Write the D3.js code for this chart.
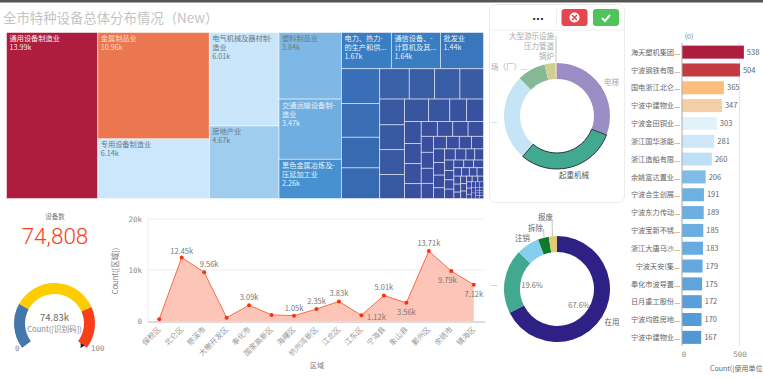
<!DOCTYPE html>
<html><head><meta charset="utf-8">
<script src="https://cdn.jsdelivr.net/npm/d3@7"></script>
<style>html,body{margin:0;padding:0;background:#fff;overflow:hidden}svg{display:block;font-family:"Noto Sans CJK SC","Noto Sans",sans-serif}</style>
</head><body><svg id="c" width="763" height="380"></svg>
<script>
const titleText = "全市特种设备总体分布情况（New）";
// treemap
const treeNames = ["通用设备制造业","金属制品业","专用设备制造业","电气机械及器材制-\n造业","房地产业","塑料制品业","交通运输设备制-\n造业","黑色金属冶炼及-\n压延加工业","电力、热力-\n的生产和供...","通信设备、-\n计算机及其...","批发业"];
const treeValues = [13.99,10.96,6.14,6.01,4.67,3.84,3.47,2.26,1.67,1.64,1.44];
const treeTail = [1.23,1.19,1.08,1.08,.83,.71,.71,.66,.59,.57,.57,.55,.5,.44,.35,.35,.34,.31,.31,.23,.22,.21,.21,.21,.18,.18,.17,.17,.15,.15,.14,.14,.14,.13,.13,.11,.11,.11,.09,.09,.09,.08,.08,.08,.07,.07,.07,.06,.06,.06,.05,.05,.05,.04,.04,.04,.04,.03,.03,.03,.03,.03,.02,.02,.02,.02,.02,.02,.01,.01,.01,.01,.01,.01,.01,.01];
const treeColorStops = [0,0.5,1.7,2.26,3.47,4.67,6.0,6.5,10.96,13.99];
const treeColors = ["#3a4a9e","#38569f","#397fc4","#4791d0","#70aee2","#9ecdf0","#c9e6fb","#d2eafb","#ea7750","#ae1c3e"];
// KPI + gauge
const kpiLabel = "设备数", kpiValue = "74,808", gaugeValue = "74.83k", gaugeTitle = "Count([识别码])";
const gaugeBands = [26,50,24], gaugeColors = ["#4477aa","#ffcc00","#f93f17"], gaugeTicks = ["0","100"];
// line
const areas = ["保税区","北仑区","慈溪市","大榭开发区","奉化市","国家高新区","海曙区","杭州湾新区","江北区","江东区","宁海县","象山县","鄞州区","余姚市","镇海区"];
const counts = [350,12450,9560,650,3090,1200,1050,2350,3830,1120,5010,3560,13710,9790,7120];
const countLabels = ["","12.45k","9.56k","","3.09k","","1.05k","2.35k","3.83k","1.12k","5.01k","3.56k","13.71k","9.79k","7.12k"];
const yTicks = [0,10000,20000], yTickLabels = ["0","10k","20k"];
// donut 1
const typeNames = ["电梯","起重机械","...","场（厂）...","锅炉","压力管道","大型游乐设施"];
const typeValues = [30.8,30.3,26.4,8.6,3.3,.3,.2];
const typeColors = ["#9b8ec4","#40a990","#c5e5f7","#86b897","#d0ce93","#e8c9a8","#d8b0b0"];
// donut 2
const statusNames = ["在用","...","注销","拆除","报废"];
const statusValues = [67.6,19.6,7,3.3,2.5];
const statusColors = ["#2e2085","#40a990","#86cdf0","#0e7a30","#e0cb76"];
// bars
const firms = ["海天塑机集团...","宁波钢铁有限...","国电浙江北仑...","宁波中建物业...","宁波金田铜业...","浙江国华浙能...","浙江造船有限...","余姚富达置业...","宁波合生创展...","宁波东力传动...","宁波宝新不锈...","浙江大唐乌沙...","宁波天安(集...","奉化市波导置...","日月重工股份...","宁波均胜房地...","宁波中建物业..."];
const firmCounts = [538,504,365,347,303,281,260,206,191,189,185,183,179,175,172,170,167];
const firmColors = ["#ae1c3e","#c53a41","#fdbe7c","#f2cfa5","#e2f2fb","#cfe7f9","#bde0f7","#7fbce8","#6fb0e2","#6dafe2","#6aade1","#68abe0","#64a8de","#5fa4dc","#5a9fd9","#559bd7","#5097d4"];

const svg = d3.select("#c");
const T = (x,y,s,o={}) => svg.append("text").attr("x",x).attr("y",y).text(s)
  .attr("font-size",o.size||8).attr("fill",o.fill||"#888").attr("text-anchor",o.anchor||"start")
  .attr("font-family",o.font||null).attr("transform",o.rot?`rotate(${o.rot},${x},${y})`:null);
const Leader = pts => svg.append("path").attr("d",d3.line()(pts)).attr("fill","none").attr("stroke","#aaa").attr("stroke-width",.7);

svg.append("rect").attr("width",763).attr("height",2.5).attr("fill","#555");
T(3,22.5,titleText,{size:13.4,fill:"#c4c4c4"});

// treemap
const leaves = treeValues.map((v,i)=>({v,name:treeNames[i]})).concat(treeTail.map(v=>({v})));
const root = d3.hierarchy({children:leaves}).sum(d=>d.v||0).sort((a,b)=>b.value-a.value);
d3.treemap().tile(d3.treemapSquarify.ratio(1)).size([477,166]).round(false)(root);
const tc = d3.scaleLinear().domain(treeColorStops).range(treeColors).clamp(true);
const tg = svg.append("g").attr("transform","translate(6.5,32.5)");
const cell = tg.selectAll("g").data(root.leaves()).join("g").attr("transform",d=>`translate(${d.x0},${d.y0})`);
cell.append("rect").attr("width",d=>d.x1-d.x0).attr("height",d=>d.y1-d.y0).attr("fill",d=>tc(d.data.v))
  .attr("stroke","#fff").attr("stroke-opacity",.55).attr("stroke-width",d=>d.data.v<.03?.4:.9);
cell.filter(d=>d.data.name).each(function(d){
  const g=d3.select(this), lines=d.data.name.split("\n");
  const dark=d.data.v<3.6||d.data.v>10; const light=d.data.v>10;
  const col=d.data.v>13?"#fbe6ea":light?"#fbdccf":dark?"#e6f1fa":"#667a88";
  lines.concat([(d.data.v).toFixed(2)+"k"]).forEach((s,i)=>{
    g.append("text").attr("x",3).attr("y",8.5+i*9).attr("font-size",7.2).attr("fill",col).text(s);
  });
});

// KPI
T(55,219,kpiLabel,{size:6.5,anchor:"middle",fill:"#777"});
T(55,244,kpiValue,{size:22.5,anchor:"middle",fill:"#f93f17",font:"Roboto"}).attr("font-weight",300);

// gauge
const gx=54.5, gy=323.5, gStart=-127*Math.PI/180, gEnd=127*Math.PI/180;
const gPie=d3.pie().sort(null).startAngle(gStart).endAngle(gEnd)(gaugeBands);
const gA=d3.arc().innerRadius(29.5).outerRadius(40.5);
svg.append("g").attr("transform",`translate(${gx},${gy})`).selectAll("path").data(gPie).join("path")
  .attr("d",gA).attr("fill",(d,i)=>gaugeColors[i]);
T(gx,321,gaugeValue,{size:9.5,anchor:"middle",fill:"#666"});
T(gx,331.5,gaugeTitle,{size:7.6,anchor:"middle",fill:"#888"});
T(15,351,gaugeTicks[0],{size:7.5,fill:"#888",font:"DejaVu Sans Mono"});
T(91,351,gaugeTicks[1],{size:7.5,fill:"#888",font:"DejaVu Sans Mono"});
svg.append("path").attr("d",d3.symbol(d3.symbolTriangle,10)()).attr("transform","translate(82,345.5) rotate(90)").attr("fill","#222");

// line
const x=d3.scaleBand().domain(areas).range([148,485]);
const y=d3.scaleLinear().domain([0,20000]).range([321,219]);
const px=i=>x(areas[i])+x.bandwidth()/2;
svg.append("g").selectAll("line").data(yTicks.slice(1)).join("line").attr("x1",148).attr("x2",485)
  .attr("y1",d=>y(d)).attr("y2",d=>y(d)).attr("stroke","#eee").attr("stroke-width",1.2);
svg.append("line").attr("x1",148).attr("x2",148).attr("y1",219).attr("y2",322).attr("stroke","#eee");
svg.append("line").attr("x1",148).attr("x2",485).attr("y1",322).attr("y2",322).attr("stroke","#bbb");
yTicks.forEach((t,i)=>T(142,y(t)+3,yTickLabels[i],{size:7.5,anchor:"end",fill:"#888",font:"DejaVu Sans Mono"}));
svg.append("path").datum(counts).attr("fill","#fdc4b8")
  .attr("d",d3.area().x((d,i)=>px(i)).y0(y(0)).y1(d=>y(d)));
svg.append("path").datum(counts).attr("fill","none").attr("stroke","#f96a4e").attr("stroke-width",1)
  .attr("d",d3.line().x((d,i)=>px(i)).y(d=>y(d)));
svg.append("g").selectAll("circle").data(counts).join("circle").attr("cx",(d,i)=>px(i)).attr("cy",d=>y(d)).attr("r",2).attr("fill","#f9310f");
const labelShift=[[0,0],[0,-4],[5,-5],[0,0],[0,-5],[0,0],[0,-5],[0,-5],[0,-5],[15,5],[0,-5],[0,12],[0,-5],[-4,12],[0,12]];
counts.forEach((c,i)=>{ if(countLabels[i]) T(px(i)+labelShift[i][0],y(c)+labelShift[i][1],countLabels[i],{size:7.5,anchor:"middle",fill:"#777"}); });
areas.forEach((a,i)=>T(px(i)+2,330,a,{size:7.5,anchor:"end",rot:-45,fill:"#999"}));
T(317,368,"区域",{size:7,anchor:"middle",fill:"#777"});
T(118,271,"Count([区域])",{size:7.5,anchor:"middle",rot:-90,fill:"#777"});

// card
svg.append("rect").attr("x",489.5).attr("y",4.5).attr("width",135).attr("height",198).attr("rx",6).attr("fill","#fff").attr("stroke","#ececec");
svg.append("line").attr("x1",490).attr("x2",624).attr("y1",30).attr("y2",30).attr("stroke","#eee");
svg.append("line").attr("x1",556.5).attr("x2",556.5).attr("y1",9).attr("y2",27).attr("stroke","#eee");
T(538,20,"...",{size:10,anchor:"middle",fill:"#222",font:"DejaVu Sans"}).attr("font-weight",700);
svg.append("rect").attr("x",561.5).attr("y",9).attr("width",26).attr("height",17).attr("rx",3).attr("fill","#e5474f");
svg.append("rect").attr("x",593).attr("y",9).attr("width",26).attr("height",17).attr("rx",3).attr("fill","#4fc45a");
svg.append("circle").attr("cx",574.5).attr("cy",17.5).attr("r",5).attr("fill","#fff");
svg.append("path").attr("d","M572 15L577 20M577 15L572 20").attr("stroke","#e5474f").attr("stroke-width",1.6);
svg.append("path").attr("d","M602 18L605 21L610 15").attr("stroke","#fff").attr("stroke-width",2).attr("fill","none");

// donut 1
const arc1=d3.arc().innerRadius(37).outerRadius(53);
const g1=svg.append("g").attr("transform","translate(557,116)");
const pie1=d3.pie().sort(null)(typeValues);
g1.selectAll("path").data(pie1).join("path").attr("d",arc1).attr("fill",(d,i)=>typeColors[i])
  .attr("stroke",(d,i)=>i===1?"#333":"none").attr("stroke-width",1);
g1.select("path:nth-child(2)").raise();
T(604,85,typeNames[0],{size:7.5,fill:"#aaa",anchor:"start"});
T(559,178,typeNames[1],{size:7.5,fill:"#555",anchor:"start"});
T(491,123,typeNames[2],{size:7,fill:"#aaa"});
T(491,70,typeNames[3],{size:7.5,fill:"#aaa"});
T(554,59,typeNames[4],{size:7.5,fill:"#aaa",anchor:"end"});
T(554,49,typeNames[5],{size:7.5,fill:"#aaa",anchor:"end"});
T(554,39,typeNames[6],{size:7.5,fill:"#aaa",anchor:"end"});
Leader([[556,36],[556,62]]);

// donut 2
const g2=svg.append("g").attr("transform","translate(557,289)");
g2.selectAll("path").data(d3.pie().sort(null)(statusValues)).join("path").attr("d",arc1).attr("fill",(d,i)=>statusColors[i]);
T(604.5,325,statusNames[0],{size:7.5,fill:"#666"});
T(491,286,statusNames[1],{size:7,fill:"#888"});
T(515,241,statusNames[2],{size:7.5,fill:"#666"});
T(528,231,statusNames[3],{size:7.5,fill:"#666"});
T(538,220,statusNames[4],{size:7.5,fill:"#666"});
Leader([[543.5,229],[544,237]]);Leader([[552,219],[552.5,236]]);
T(532,288,statusValues[1].toFixed(1)+"%",{size:7.5,anchor:"middle",fill:"#777"});
T(579,308,statusValues[0].toFixed(1)+"%",{size:7.5,anchor:"middle",fill:"#777"});

// bars (rows keyed by position: one firm name occurs twice)
const rows=d3.range(firms.length);
const bx=d3.scaleLinear().domain([0,500]).range([682,739.5]);
const by=d3.scaleBand().domain(rows).range([43.5,346]).paddingInner(.27).paddingOuter(.12);
svg.append("line").attr("x1",bx(500)).attr("x2",bx(500)).attr("y1",43).attr("y2",346).attr("stroke","#e6e6e6");
svg.selectAll(".b").data(rows).join("rect").attr("class","b").attr("x",bx(0)).attr("y",i=>by(i)).attr("height",by.bandwidth())
  .attr("width",i=>bx(firmCounts[i])-bx(0)).attr("fill",i=>firmColors[i]);
svg.append("line").attr("x1",682).attr("x2",682).attr("y1",43).attr("y2",346).attr("stroke","#aaa").attr("stroke-width",1);
rows.forEach(i=>{
  T(680,by(i)+by.bandwidth()/2+2.7,firms[i],{size:7.2,anchor:"end",fill:"#666"});
  T(bx(firmCounts[i])+3,by(i)+by.bandwidth()/2+2.7,firmCounts[i],{size:7.5,fill:"#666"});
});
T(689,39,"(0)",{size:7,anchor:"middle",fill:"#777"});
T(684,357,"0",{size:7.5,anchor:"middle",fill:"#888",font:"DejaVu Sans Mono"});
T(740,357,"500",{size:7.5,anchor:"middle",fill:"#888",font:"DejaVu Sans Mono"});
T(710,371,"Count([使用单位",{size:7,fill:"#666"});
</script></body></html>
